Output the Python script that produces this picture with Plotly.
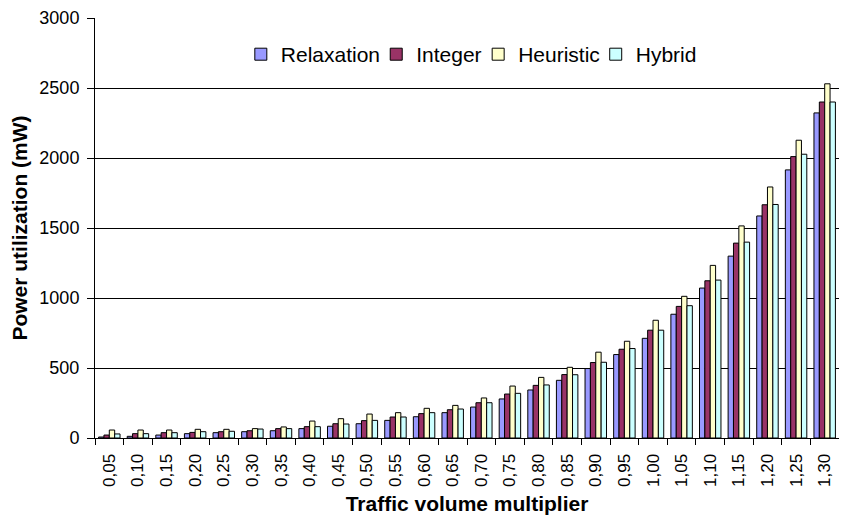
import plotly.graph_objects as go

multipliers = ["0,05", "0,10", "0,15", "0,20", "0,25", "0,30", "0,35", "0,40", "0,45",
               "0,50", "0,55", "0,60", "0,65", "0,70", "0,75", "0,80", "0,85", "0,90",
               "0,95", "1,00", "1,05", "1,10", "1,15", "1,20", "1,25", "1,30"]

relaxation = [7, 12, 21, 31, 38, 45, 52, 67, 84, 102, 126, 152, 181, 221, 279, 343,
              412, 496, 596, 712, 884, 1071, 1299, 1586, 1915, 2322]
integer = [21, 31, 38, 40, 45, 52, 67, 81, 102, 124, 150, 174, 202, 252, 314, 376,
           453, 539, 634, 770, 940, 1123, 1392, 1666, 2010, 2400]
heuristic = [57, 57, 57, 62, 62, 67, 79, 121, 138, 171, 181, 212, 233, 286, 371, 433,
             505, 613, 691, 841, 1012, 1233, 1515, 1793, 2127, 2530]
hybrid = [29, 31, 38, 45, 48, 64, 67, 81, 100, 126, 150, 181, 207, 252, 319, 379,
          452, 541, 639, 770, 945, 1128, 1399, 1668, 2027, 2400]

series_names = ["Relaxation", "Integer", "Heuristic", "Hybrid"]
series_values = [relaxation, integer, heuristic, hybrid]
series_colors = ["#9999FF", "#993366", "#FFFFCC", "#CCFFFF"]
legend_ids = ["legend", "legend2", "legend3", "legend4"]
legend_x = [0.196, 0.378, 0.515, 0.673]

FONT = "Liberation Sans, Arial, sans-serif"

fig = go.Figure()
for name, vals, color, lid in zip(series_names, series_values, series_colors, legend_ids):
    fig.add_trace(go.Bar(
        x=multipliers, y=vals, name=name, legend=lid,
        marker=dict(color=color, line=dict(color="black", width=1)),
    ))

legend_common = dict(
    orientation="h", xanchor="left", y=0.913, yanchor="middle",
    font=dict(size=21, family=FONT, color="black"),
    bgcolor="rgba(0,0,0,0)", itemwidth=30,
)

layout_legends = {}
for lid, lx in zip(legend_ids, legend_x):
    layout_legends[lid] = dict(legend_common, x=lx)

fig.update_layout(
    width=831, height=507,
    margin=dict(l=87, r=0, t=10, b=77),
    paper_bgcolor="white", plot_bgcolor="white",
    barmode="group", bargap=0.25, bargroupgap=0,
    font=dict(family=FONT, color="black"),
    showlegend=True,
    xaxis=dict(
        type="category", tickangle=-90, tickson="boundaries",
        ticks="outside", ticklen=6, tickcolor="black",
        showline=True, linecolor="black", linewidth=1,
        showgrid=False, tickfont=dict(size=17, family=FONT),
        ticklabelstandoff=8,
        title=dict(text="<b>Traffic volume multiplier</b>", font=dict(size=21, family=FONT), standoff=14),
        automargin=False,
    ),
    yaxis=dict(
        range=[0, 3000], dtick=500, tick0=0,
        ticks="outside", ticklen=7, tickcolor="black",
        showline=True, linecolor="black", linewidth=1,
        showgrid=True, gridcolor="black", gridwidth=1,
        zeroline=False, tickfont=dict(size=18, family=FONT),
        ticklabelstandoff=4,
        title=dict(text="<b>Power utilization (mW)</b>", font=dict(size=21, family=FONT), standoff=8),
        automargin=False,
    ),
    **layout_legends,
)

fig.write_html("out.html")
